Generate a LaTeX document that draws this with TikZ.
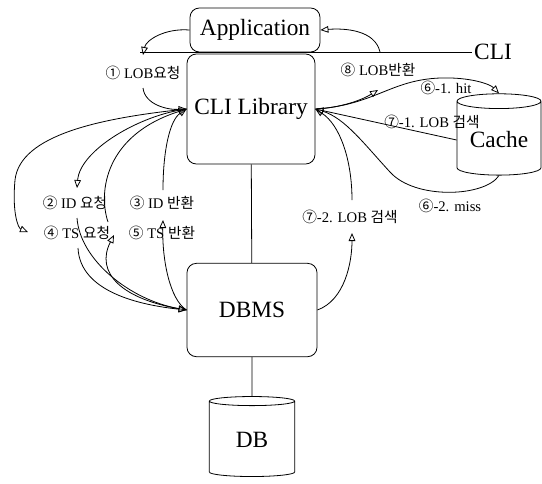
\documentclass[tikz,border=0pt]{standalone}
\usepackage{fontspec}
\setmainfont{Liberation Serif}
\newfontfamily\krfont{Noto Sans CJK KR}
\newcommand{\kr}[1]{{\krfont #1}}
\usetikzlibrary{arrows.meta, shapes.geometric}

\begin{document}
\begin{tikzpicture}[x=0.75pt, y=-0.75pt, line width=0.6pt,
        box/.style={draw, rounded corners=7pt, font=\fontsize{17.5}{20}\selectfont},
        store/.style={draw, cylinder, shape border rotate=90, aspect=0.22,
                      font=\fontsize{17.5}{20}\selectfont},
        lbl/.style={font=\fontsize{11}{13}\selectfont, inner sep=0pt},
        flow/.style={-{Triangle[open, length=6pt, width=5pt]}}]

    \useasboundingbox (0,0) rectangle (542,483);

    % boxes and stores
    \node[box, minimum width=97.5pt, minimum height=33pt] (app) at (255,30) {Application};
    \node[box, minimum width=96pt, minimum height=82.5pt] (cli) at (251,109) {CLI Library};
    \node[box, minimum width=97.5pt, minimum height=70pt] (dbms) at (252,310) {DBMS};
    \node[store, minimum width=63pt, minimum height=61pt] (cache) at (499,140) {Cache};
    \node[store, minimum width=64pt, minimum height=60pt] (db) at (252,440) {DB};

    % CLI boundary
    \node[font=\fontsize{17.5}{20}\selectfont, inner sep=1pt] (clitxt) at (493,52) {CLI};
    \coordinate (clistart) at (140,52);
    \draw (clistart) -- (clitxt.west);

    \draw (cli) -- (dbms);
    \draw (dbms) -- (db);

    % labels
    \node[lbl] (l1) at (143,73) {\kr{①} LOB\kr{요청}};
    \node[lbl] (l8) at (378,70) {\kr{⑧} LOB\kr{반환}};
    \node[lbl] (l61) at (446,88) {\kr{⑥}-1. hit};
    \node[lbl] (l71) at (432,122) {\kr{⑦}-1. LOB \kr{검색}};
    \node[lbl] (l62) at (450,206) {\kr{⑥}-2. miss};
    \node[lbl] (l72) at (350,217) {\kr{⑦}-2. LOB \kr{검색}};
    \node[lbl] (l2) at (75,203) {\kr{②} ID \kr{요청}};
    \node[lbl] (l3) at (162,203) {\kr{③} ID \kr{반환}};
    \node[lbl] (l4) at (77,233) {\kr{④} TS \kr{요청}};
    \node[lbl] (l5) at (162,233) {\kr{⑤} TS \kr{반환}};

    % free ends beside the labels
    \coordinate (c1a) at (143,55);  \coordinate (c1b) at (143,88);
    \coordinate (c8a) at (378,90);  \coordinate (c8b) at (380,52);
    \coordinate (c72a) at (352,233); \coordinate (c72b) at (352,200);
    \coordinate (c2a) at (77,188);  \coordinate (c2b) at (77,218);
    \coordinate (c3a) at (163,220); \coordinate (c3b) at (163,190);
    \coordinate (c4a) at (28,232);  \coordinate (c4b) at (78,248);
    \coordinate (c5a) at (114,235); \coordinate (c5b) at (108,222);

    % LOB request / return
    \draw[flow] (app.west) .. controls (165,28) and (146,40) .. (c1a);
    \draw[flow] (c1b) .. controls (145,105) and (168,110) .. (cli.west);
    \draw[flow] (cli.east) .. controls (340,108) and (362,100) .. (c8a);
    \draw[flow] (c8b) .. controls (375,30) and (345,28) .. (app.east);

    % cache
    \draw[flow] (cli.east) .. controls (375,105) and (390,80) .. (440,78)
        .. controls (470,77) and (490,84) .. (cache.north);
    \draw[flow] (cache.west) -- (cli.east);
    \draw[flow] (cache.south) .. controls (485,197) and (415,200) .. (390,172)
        .. controls (365,145) and (345,118) .. (cli.east);

    % DBMS search
    \draw[flow] (dbms.east) .. controls (345,300) and (352,262) .. (c72a);
    \draw[flow] (c72b) .. controls (352,160) and (340,125) .. (cli.east);

    % ID / TS
    \draw[flow] (cli.west) .. controls (140,115) and (80,150) .. (c2a);
    \draw[flow] (c2b) .. controls (80,260) and (130,300) .. (dbms.west);
    \draw[flow] (dbms.west) .. controls (170,300) and (162,260) .. (c3a);
    \draw[flow] (c3b) .. controls (163,150) and (170,120) .. (cli.west);
    \draw[flow] (cli.west) .. controls (100,118) and (20,135) .. (15,180)
        .. controls (12,212) and (18,228) .. (c4a);
    \draw[flow] (c4b) .. controls (80,292) and (140,305) .. (dbms.west);
    \draw[flow] (dbms.west) .. controls (120,300) and (95,272) .. (c5a);
    \draw[flow] (c5b) .. controls (98,192) and (105,135) .. (cli.west);
\end{tikzpicture}
\end{document}
